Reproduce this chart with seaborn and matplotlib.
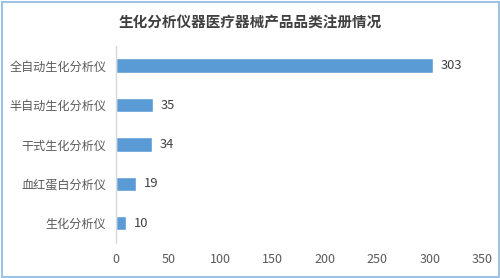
import matplotlib
matplotlib.use("Agg")
import matplotlib.pyplot as plt
import seaborn as sns
import pandas as pd
from matplotlib.patches import Rectangle

categories = ["全自动生化分析仪", "半自动生化分析仪", "干式生化分析仪", "血红蛋白分析仪", "生化分析仪"]
values = [303, 35, 34, 19, 10]
xticks = [0, 50, 100, 150, 200, 250, 300, 350]
title = "生化分析仪器医疗器械产品品类注册情况"

sns.set_theme(style="white")
plt.rcParams['font.family'] = ['Noto Sans CJK SC', 'DejaVu Sans']

df = pd.DataFrame({"cat": categories, "val": values})

fig = plt.figure(figsize=(5, 2.78), dpi=100)
ax = fig.add_axes([0.232, 0.126, 0.732, 0.709])
sns.barplot(data=df, y="cat", x="val", color="#5B9BD5", saturation=1, width=0.36, ax=ax)

ax.set_xlim(0, 350)
ax.set_xticks(xticks)
ax.set_xlabel("")
ax.set_ylabel("")
ax.tick_params(axis="y", length=0, labelsize=8.7, colors="#595959", pad=7)
ax.tick_params(axis="x", length=0, labelsize=9, colors="#595959", pad=7)
for s in ["top", "right", "bottom"]:
    ax.spines[s].set_visible(False)
ax.spines["left"].set_color("#d9d9d9")
ax.spines["left"].set_linewidth(1)

for i, v in enumerate(values):
    ax.text(v + 7.5, i, str(v), va="center", ha="left", fontsize=9.3, color="#404040")

fig.text(0.5, 0.92, title, ha="center", va="center", fontsize=10.5, fontweight="bold", color="#404040")

fig.patches.append(Rectangle((0.003, 0.004), 0.994, 0.99, transform=fig.transFigure,
                             fill=False, edgecolor="#9DC3E6", linewidth=1.5))

fig.savefig("out.png", dpi=100)
